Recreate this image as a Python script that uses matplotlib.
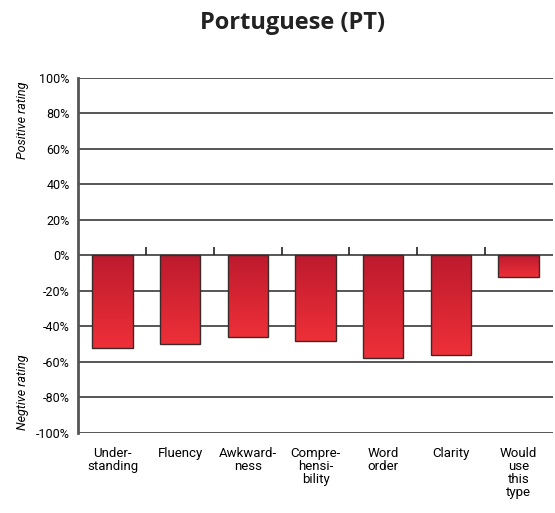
import numpy as np
import matplotlib.pyplot as plt
from matplotlib.colors import LinearSegmentedColormap

categories = ['Under-\nstanding', 'Fluency', 'Awkward-\nness', 'Compre-\nhensi-\nbility',
              'Word\norder', 'Clarity', 'Would\nuse\nthis\ntype']
values = [-52, -50, -46, -48, -58, -56, -12]
yticks = [100, 80, 60, 40, 20, 0, -20, -40, -60, -80, -100]

plt.rcParams['font.family'] = ['Roboto', 'DejaVu Sans']

fig = plt.figure(figsize=(5.55, 5.13), dpi=100)
ax = fig.add_axes([0.1405, 0.156, 0.856, 0.692])

x = np.arange(len(categories))
ax.set_xlim(-0.51, len(categories) - 0.49)
ax.set_ylim(-100, 100)

# grid lines behind bars
for t in yticks:
    ax.axhline(t, color='#3a3a3a', lw=1.2, zorder=1)

cmap = LinearSegmentedColormap.from_list('rd', ['#bd1a2e', '#ee3038'])
grad = np.linspace(0, 1, 256).reshape(-1, 1)
bars = ax.bar(x, values, width=0.6, color='none', edgecolor='#3a2a2a', lw=1.0, zorder=3)
for b in bars:
    x0, y0 = b.get_x(), b.get_y()
    w, h = b.get_width(), b.get_height()
    im = ax.imshow(grad, cmap=cmap, aspect='auto', origin='upper',
                   extent=[x0, x0 + w, y0 + h, y0], zorder=2)
    im.set_clip_path(b)

# small separators between categories above zero line
ax.vlines(x[:-1] + 0.5, 0, 4.5, color='#222222', lw=1.2, zorder=3)

ax.set_yticks(yticks)
ax.set_yticklabels([f'{t}%' if t >= 0 else f'-{abs(t)}%' for t in yticks], fontsize=9)
ax.tick_params(axis='y', length=0, pad=6)
ax.set_xticks(x)
ax.set_xticklabels(categories, fontsize=9.5, va='top', linespacing=1.0)
ax.tick_params(axis='x', length=0, pad=10)

for s in ['top', 'right', 'bottom']:
    ax.spines[s].set_visible(False)
ax.spines['left'].set_color('#555555')
ax.spines['left'].set_linewidth(2)
ax.spines['left'].set_zorder(4)

fig.text(0.04, 0.765, 'Positive rating', rotation=90, style='italic', fontsize=9,
         ha='center', va='center')
fig.text(0.04, 0.235, 'Negtive rating', rotation=90, style='italic', fontsize=9,
         ha='center', va='center')
fig.text(0.528, 0.955, 'Portuguese (PT)', fontsize=17, fontweight='bold',
         family=['Open Sans', 'DejaVu Sans'], ha='center', va='center', color='#222222')

fig.savefig('out.png', dpi=100)
